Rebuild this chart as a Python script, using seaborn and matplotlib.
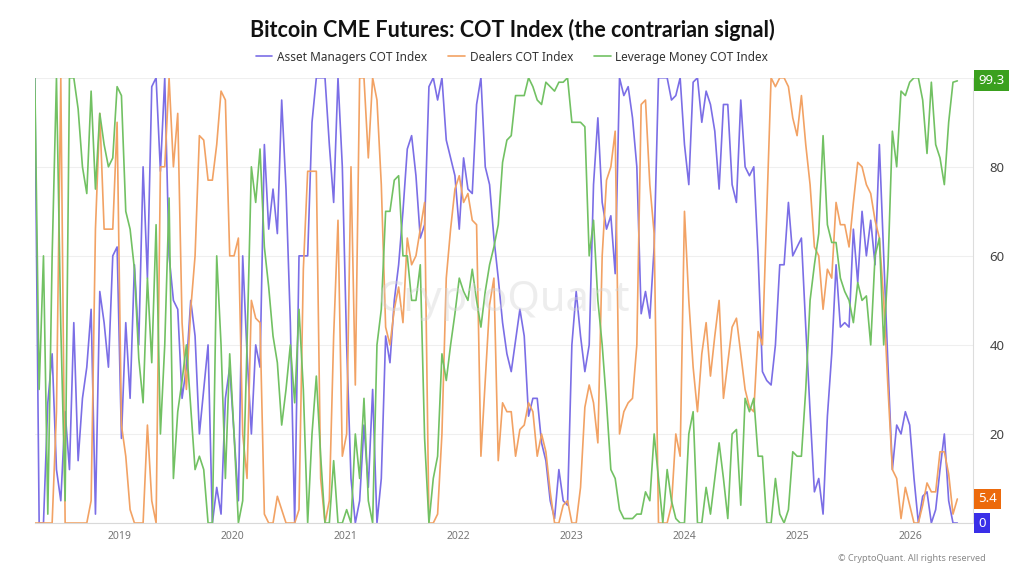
import matplotlib
matplotlib.use("Agg")
import matplotlib.pyplot as plt
import matplotlib.dates as mdates
import seaborn as sns
import pandas as pd
import numpy as np

# biweekly COT index readings, April 2018 -> mid 2026
dates = pd.date_range("2018-04-03", periods=214, freq="14D")

asset_managers = [
    100, 0, 0, 27, 38, 12, 5, 25, 12, 45, 14, 28, 35, 48, 2, 52, 45, 35, 60, 62, 19, 45, 28, 58, 40, 80, 55, 98,
    100, 79, 100, 60, 50, 48, 28, 35, 50, 42, 20, 30, 40, 0, 8, 2, 28, 35, 20, 5, 60, 38, 20, 40, 35, 85, 66,
    75, 65, 95, 75, 45, 0, 60, 60, 60, 90, 100, 100, 100, 85, 72, 100, 80, 40, 10, 0, 5, 22, 8, 30, 0, 10,
    42, 36, 50, 58, 70, 84, 87, 78, 64, 67, 98, 100, 95, 100, 86, 82, 78, 66, 82, 75, 74, 94, 100, 80, 76, 64, 55,
    45, 38, 34, 41, 48, 42, 24, 28, 28, 18, 14, 5, 1, 12, 5, 4, 40, 52, 42, 34, 40, 76, 91, 72, 66, 69,
    56, 100, 96, 98, 91, 80, 47, 52, 46, 62, 100, 100, 100, 95, 96, 100, 85, 76, 99, 100, 90, 97, 94, 88, 75, 94, 94,
    76, 72, 95, 80, 78, 80, 60, 34, 32, 31, 40, 58, 58, 72, 60, 62, 64, 44, 25, 7, 10, 2, 24, 38, 58, 44,
    45, 44, 66, 54, 70, 60, 68, 58, 85, 60, 35, 12, 22, 20, 25, 22, 10, 0, 6, 7, 0, 3, 12, 20, 5, 0, 0,
]
dealers = [
    0, 0, 0, 0, 0, 25, 100, 0, 0, 0, 0, 0, 0, 5, 66, 92, 66, 66, 66, 90, 22, 15, 3, 0, 0, 0, 22, 5,
    0, 80, 80, 100, 80, 92, 45, 30, 48, 60, 87, 86, 77, 77, 85, 97, 95, 60, 60, 64, 20, 10, 50, 46, 45, 2, 0,
    0, 6, 3, 0, 0, 0, 3, 57, 79, 79, 79, 10, 0, 5, 42, 68, 15, 20, 80, 31, 100, 100, 82, 100, 95, 76,
    44, 40, 48, 53, 45, 64, 58, 60, 66, 72, 0, 0, 2, 20, 55, 66, 75, 78, 72, 74, 68, 67, 15, 32, 49, 55, 14,
    27, 25, 25, 15, 21, 22, 27, 25, 15, 20, 16, 7, 0, 0, 4, 5, 0, 0, 8, 26, 31, 27, 18, 60, 77, 80,
    88, 20, 25, 27, 28, 40, 94, 95, 76, 65, 0, 0, 0, 4, 20, 15, 70, 50, 35, 25, 38, 45, 33, 42, 50, 28, 36,
    44, 46, 38, 30, 26, 25, 43, 40, 70, 100, 98, 100, 100, 98, 91, 87, 96, 85, 76, 62, 60, 48, 57, 55, 72, 67,
    67, 62, 72, 81, 80, 76, 74, 68, 64, 50, 30, 12, 10, 1, 8, 4, 0, 0, 4, 9, 7, 7, 16, 16, 11, 2, 5.4,
]
leverage_money = [
    100, 30, 60, 2, 60, 100, 44, 5, 100, 100, 93, 80, 74, 97, 75, 92, 85, 80, 82, 98, 96, 70, 66, 57, 37, 27, 55, 36,
    67, 20, 40, 73, 10, 25, 32, 40, 26, 12, 15, 12, 0, 0, 60, 40, 10, 38, 20, 0, 5, 40, 80, 72, 84, 62, 53,
    42, 36, 22, 30, 40, 27, 48, 30, 0, 20, 33, 15, 0, 0, 14, 0, 0, 3, 0, 20, 10, 28, 5, 0, 40, 48,
    70, 70, 77, 78, 60, 60, 50, 50, 58, 19, 0, 10, 15, 38, 32, 40, 47, 55, 52, 50, 57, 50, 44, 52, 58, 62, 67,
    81, 86, 87, 96, 96, 96, 100, 98, 95, 94, 99, 98, 97, 99, 99, 100, 90, 90, 90, 89, 60, 68, 50, 40, 27, 12,
    10, 3, 1, 1, 1, 2, 2, 7, 5, 20, 10, 0, 12, 5, 1, 0, 0, 20, 25, 0, 0, 8, 2, 10, 18, 10, 1,
    20, 21, 4, 28, 25, 28, 15, 15, 0, 0, 10, 2, 0, 3, 16, 15, 15, 30, 50, 58, 65, 87, 67, 63, 63, 55,
    52, 50, 45, 54, 50, 51, 40, 60, 64, 40, 58, 88, 80, 97, 96, 99, 100, 100, 95, 83, 99, 85, 82, 76, 90, 99, 99.3,
]

names = ["Asset Managers COT Index", "Dealers COT Index", "Leverage Money COT Index"]
colors = ["#7b6ee6", "#f2a264", "#72c163"]
badge_colors = ["#3a2fe8", "#ec6a0c", "#3aa01e"]

df = pd.DataFrame({"date": dates, names[0]: asset_managers, names[1]: dealers, names[2]: leverage_money})
long = df.melt(id_vars="date", var_name="series", value_name="value")

sns.set_style("white")
plt.rcParams["font.family"] = ["Noto Sans", "DejaVu Sans"]

fig = plt.figure(figsize=(10.24, 5.76), dpi=100)
ax = fig.add_axes([0.034, 0.092, 0.916, 0.773])

sns.lineplot(data=long, x="date", y="value", hue="series", hue_order=names,
             palette=colors, linewidth=1.2, ax=ax, legend=False)

ax.set_ylim(0, 100)
ax.set_xlim(dates[0], dates[-1] + pd.Timedelta(days=50))
ax.set_xlabel("")
ax.set_ylabel("")

ax.yaxis.tick_right()
ax.set_yticks([0, 20, 40, 60, 80, 100])
ax.set_yticklabels(["", "20", "40", "60", "80", ""])
ax.tick_params(axis="y", length=0, pad=12, labelsize=9.5, labelcolor="#444444")
ax.grid(axis="y", color="#efefef", linewidth=0.8)
ax.set_axisbelow(True)

ax.xaxis.set_major_locator(mdates.YearLocator())
ax.xaxis.set_major_formatter(mdates.DateFormatter("%Y"))
ax.tick_params(axis="x", length=3, color="#cccccc", labelsize=7.5, labelcolor="#777777", pad=3)

for s in ["top", "left"]:
    ax.spines[s].set_visible(False)
ax.spines["bottom"].set_color("#d9d9d9")
ax.spines["right"].set_color("#dddddd")

# last-value badges on the right axis
last_vals = [asset_managers[-1], dealers[-1], leverage_money[-1]]
for val, bc in zip(last_vals, badge_colors):
    txt = f"{val:g}"
    ax.annotate(txt, xy=(1.006, val), xycoords=("axes fraction", "data"),
                ha="left", va="center", fontsize=9.5, color="white",
                bbox=dict(boxstyle="square,pad=0.3", fc=bc, ec="none"),
                annotation_clip=False)

# title + legend
fig.text(0.5, 0.948, "Bitcoin CME Futures: COT Index (the contrarian signal)",
         ha="center", va="center", fontsize=15.5, fontweight="bold", color="#111111",
         family=["Lato", "Liberation Sans", "DejaVu Sans"])
handles = [plt.Line2D([], [], color=c, linewidth=1.2) for c in colors]
fig.legend(handles, names, loc="center", bbox_to_anchor=(0.5, 0.901), ncol=3,
           frameon=False, fontsize=8.5, handlelength=1.4, handletextpad=0.4,
           columnspacing=1.8, labelcolor="#333333")

# watermark and copyright
ax.text(0.5, 0.5, "CryptoQuant", transform=ax.transAxes, ha="center", va="center",
        fontsize=30, color="#d4d4d4", alpha=0.4, fontweight="bold")
fig.text(0.963, 0.031, "© CryptoQuant. All rights reserved", ha="right", va="center",
         fontsize=6.5, color="#888888")

fig.savefig("out.png", dpi=100)
